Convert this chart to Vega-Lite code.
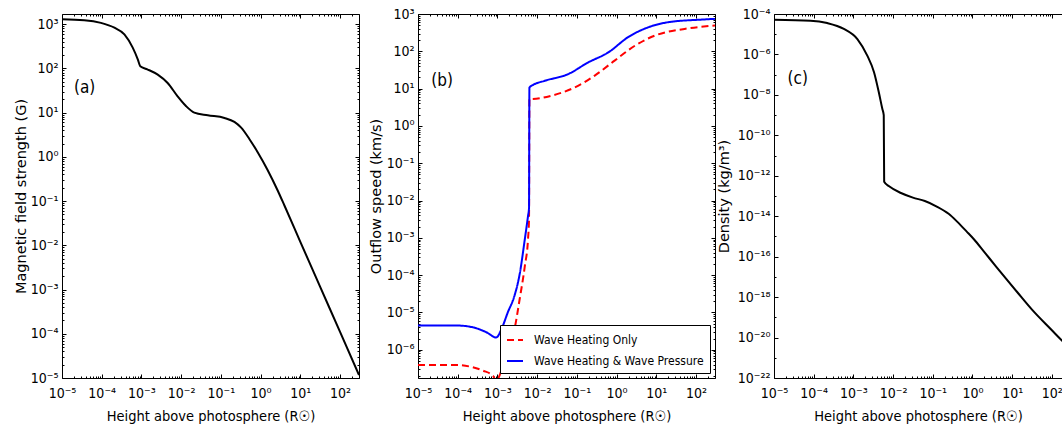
{
  "$schema": "https://vega.github.io/schema/vega-lite/v6.json",
  "padding": {"left": 13, "top": 7, "right": 0, "bottom": 3},
  "bounds": "flush",
  "spacing": 59,
  "resolve": {"scale": {"color": "independent", "strokeDash": "independent"}, "legend": {"color": "independent", "strokeDash": "independent"}},
  "datasets": {
    "bfield": [
      {"h": 1e-5, "B": 1290}, {"h": 3.63e-5, "B": 1230}, {"h": 9.55e-5, "B": 1072}, {"h": 2.09e-4, "B": 832},
      {"h": 3.72e-4, "B": 589}, {"h": 6.03e-4, "B": 295}, {"h": 8.13e-4, "B": 158}, {"h": 9.33e-4, "B": 112},
      {"h": 1.41e-3, "B": 95.5}, {"h": 2.57e-3, "B": 72.4}, {"h": 4.57e-3, "B": 46.8}, {"h": 8.13e-3, "B": 23.4},
      {"h": 1.32e-2, "B": 14.1}, {"h": 2.14e-2, "B": 10.0}, {"h": 4.68e-2, "B": 8.71}, {"h": 0.123, "B": 7.59},
      {"h": 0.219, "B": 6.17}, {"h": 0.324, "B": 4.57}, {"h": 0.525, "B": 2.51}, {"h": 0.851, "B": 1.26},
      {"h": 1.51, "B": 0.50}, {"h": 2.69, "B": 0.174}, {"h": 3.98, "B": 0.0794}, {"h": 10, "B": 0.0120},
      {"h": 31.6, "B": 1.15e-3}, {"h": 100, "B": 1.10e-4}, {"h": 300, "B": 1.17e-5}
    ],
    "speed": [
      {"h": 1e-5, "v": 3.89e-7, "series": "Wave Heating Only"},
      {"h": 9.33e-5, "v": 3.89e-7, "series": "Wave Heating Only"},
      {"h": 2.0e-4, "v": 3.55e-7, "series": "Wave Heating Only"},
      {"h": 4.37e-4, "v": 2.75e-7, "series": "Wave Heating Only"},
      {"h": 7.76e-4, "v": 2.0e-7, "series": "Wave Heating Only"},
      {"h": 9.33e-4, "v": 1.41e-7, "series": "Wave Heating Only"},
      {"h": 1.12e-3, "v": 2.0e-7, "series": "Wave Heating Only"},
      {"h": 1.58e-3, "v": 6.3e-7, "series": "Wave Heating Only"},
      {"h": 2.69e-3, "v": 3.55e-6, "series": "Wave Heating Only"},
      {"h": 3.63e-3, "v": 2.29e-5, "series": "Wave Heating Only"},
      {"h": 4.9e-3, "v": 1.78e-4, "series": "Wave Heating Only"},
      {"h": 5.89e-3, "v": 9.33e-4, "series": "Wave Heating Only"},
      {"h": 6.24e-3, "v": 3.16e-3, "series": "Wave Heating Only"},
      {"h": 6.38e-3, "v": 5.25, "series": "Wave Heating Only"},
      {"h": 7.08e-3, "v": 5.25, "series": "Wave Heating Only"},
      {"h": 2.29e-2, "v": 6.46, "series": "Wave Heating Only"},
      {"h": 8.71e-2, "v": 10.7, "series": "Wave Heating Only"},
      {"h": 0.282, "v": 22.4, "series": "Wave Heating Only"},
      {"h": 0.891, "v": 56.2, "series": "Wave Heating Only"},
      {"h": 2.88, "v": 141, "series": "Wave Heating Only"},
      {"h": 9.12, "v": 263, "series": "Wave Heating Only"},
      {"h": 51.3, "v": 398, "series": "Wave Heating Only"},
      {"h": 300, "v": 490, "series": "Wave Heating Only"},
      {"h": 1e-5, "v": 4.47e-6, "series": "Wave Heating & Wave Pressure"},
      {"h": 9.33e-5, "v": 4.47e-6, "series": "Wave Heating & Wave Pressure"},
      {"h": 2.45e-4, "v": 3.98e-6, "series": "Wave Heating & Wave Pressure"},
      {"h": 5.25e-4, "v": 2.95e-6, "series": "Wave Heating & Wave Pressure"},
      {"h": 9.33e-4, "v": 2.14e-6, "series": "Wave Heating & Wave Pressure"},
      {"h": 1.26e-3, "v": 3.55e-6, "series": "Wave Heating & Wave Pressure"},
      {"h": 1.82e-3, "v": 1e-5, "series": "Wave Heating & Wave Pressure"},
      {"h": 2.69e-3, "v": 2.82e-5, "series": "Wave Heating & Wave Pressure"},
      {"h": 3.63e-3, "v": 1.07e-4, "series": "Wave Heating & Wave Pressure"},
      {"h": 4.9e-3, "v": 9.33e-4, "series": "Wave Heating & Wave Pressure"},
      {"h": 5.89e-3, "v": 3.89e-3, "series": "Wave Heating & Wave Pressure"},
      {"h": 6.24e-3, "v": 6.3e-3, "series": "Wave Heating & Wave Pressure"},
      {"h": 6.38e-3, "v": 10.7, "series": "Wave Heating & Wave Pressure"},
      {"h": 7.94e-3, "v": 12.6, "series": "Wave Heating & Wave Pressure"},
      {"h": 1.55e-2, "v": 16.2, "series": "Wave Heating & Wave Pressure"},
      {"h": 6.03e-2, "v": 24.5, "series": "Wave Heating & Wave Pressure"},
      {"h": 0.191, "v": 50.1, "series": "Wave Heating & Wave Pressure"},
      {"h": 0.617, "v": 93.3, "series": "Wave Heating & Wave Pressure"},
      {"h": 1.95, "v": 240, "series": "Wave Heating & Wave Pressure"},
      {"h": 6.17, "v": 437, "series": "Wave Heating & Wave Pressure"},
      {"h": 20, "v": 603, "series": "Wave Heating & Wave Pressure"},
      {"h": 138, "v": 708, "series": "Wave Heating & Wave Pressure"},
      {"h": 300, "v": 741, "series": "Wave Heating & Wave Pressure"}
    ],
    "density": [
      {"h": 1e-5, "rho": 5.25e-5}, {"h": 8.32e-5, "rho": 4.68e-5}, {"h": 2.19e-4, "rho": 3.55e-5},
      {"h": 5.75e-4, "rho": 1.82e-5}, {"h": 1.26e-3, "rho": 5.75e-6}, {"h": 2.24e-3, "rho": 8.71e-7},
      {"h": 3.31e-3, "rho": 1.32e-7}, {"h": 4.37e-3, "rho": 1.35e-8}, {"h": 5.37e-3, "rho": 2.0e-9},
      {"h": 5.82e-3, "rho": 1e-9}, {"h": 5.96e-3, "rho": 5.01e-13}, {"h": 7.94e-3, "rho": 3.02e-13},
      {"h": 1.58e-2, "rho": 1.41e-13}, {"h": 3.16e-2, "rho": 8.32e-14}, {"h": 6.31e-2, "rho": 5.62e-14},
      {"h": 0.126, "rho": 3.02e-14}, {"h": 0.251, "rho": 1.32e-14}, {"h": 0.417, "rho": 5.25e-15},
      {"h": 0.708, "rho": 1.78e-15}, {"h": 1.10, "rho": 7.08e-16}, {"h": 1.95, "rho": 1.78e-16},
      {"h": 3.98, "rho": 3.16e-17}, {"h": 13.5, "rho": 1.74e-18}, {"h": 31.6, "rho": 2.4e-19},
      {"h": 93.3, "rho": 2.63e-20}, {"h": 179.5, "rho": 7.08e-21}, {"h": 251, "rho": 3.55e-21}
    ]
  },
  "hconcat": [
    {
      "width": 297, "height": 364,
      "data": {"name": "bfield"},
      "resolve": {"axis": {"x": "independent", "y": "independent"}},
      "layer": [
        {
          "mark": {"type": "line", "color": "black", "strokeWidth": 2, "clip": true, "interpolate": "monotone"},
          "encoding": {
            "x": {"field": "h", "type": "quantitative",
              "scale": {"type": "log", "domain": [1e-5, 300], "nice": false},
              "axis": {"orient": "bottom", "title": "Height above photosphere (R☉)",
                "values": [1e-5,2e-5,3e-5,4e-5,5e-5,6e-5,7e-5,8e-5,9e-5,1e-4,2e-4,3e-4,4e-4,5e-4,6e-4,7e-4,8e-4,9e-4,0.001,0.002,0.003,0.004,0.005,0.006,0.007,0.008,0.009,0.01,0.02,0.03,0.04,0.05,0.06,0.07,0.08,0.09,0.1,0.2,0.3,0.4,0.5,0.6,0.7,0.8,0.9,1,2,3,4,5,6,7,8,9,10,20,30,40,50,60,70,80,90,100,200,300],
                "tickSize": {"condition": {"test": "abs(log(datum.value)/LN10 - round(log(datum.value)/LN10)) < 0.001", "value": -4}, "value": -2},
                "labelExpr": "abs(log(datum.value)/LN10 - round(log(datum.value)/LN10)) < 0.001 ? '10' + (round(log(datum.value)/LN10) < 0 ? '⁻' : '') + (abs(round(log(datum.value)/LN10)) >= 10 ? substring('⁰¹²³⁴⁵⁶⁷⁸⁹', floor(abs(round(log(datum.value)/LN10))/10), floor(abs(round(log(datum.value)/LN10))/10) + 1) : '') + substring('⁰¹²³⁴⁵⁶⁷⁸⁹', abs(round(log(datum.value)/LN10)) % 10, abs(round(log(datum.value)/LN10)) % 10 + 1) : ''"}},
            "y": {"field": "B", "type": "quantitative",
              "scale": {"type": "log", "domain": [1e-5, 1700], "nice": false},
              "axis": {"orient": "left", "title": "Magnetic field strength (G)", "titlePadding": 5, "minExtent": 29, "maxExtent": 29,
                "values": [1e-5,2e-5,3e-5,4e-5,5e-5,6e-5,7e-5,8e-5,9e-5,1e-4,2e-4,3e-4,4e-4,5e-4,6e-4,7e-4,8e-4,9e-4,0.001,0.002,0.003,0.004,0.005,0.006,0.007,0.008,0.009,0.01,0.02,0.03,0.04,0.05,0.06,0.07,0.08,0.09,0.1,0.2,0.3,0.4,0.5,0.6,0.7,0.8,0.9,1,2,3,4,5,6,7,8,9,10,20,30,40,50,60,70,80,90,100,200,300,400,500,600,700,800,900,1000],
                "tickSize": {"condition": {"test": "abs(log(datum.value)/LN10 - round(log(datum.value)/LN10)) < 0.001", "value": -4}, "value": -2},
                "labelExpr": "abs(log(datum.value)/LN10 - round(log(datum.value)/LN10)) < 0.001 ? '10' + (round(log(datum.value)/LN10) < 0 ? '⁻' : '') + (abs(round(log(datum.value)/LN10)) >= 10 ? substring('⁰¹²³⁴⁵⁶⁷⁸⁹', floor(abs(round(log(datum.value)/LN10))/10), floor(abs(round(log(datum.value)/LN10))/10) + 1) : '') + substring('⁰¹²³⁴⁵⁶⁷⁸⁹', abs(round(log(datum.value)/LN10)) % 10, abs(round(log(datum.value)/LN10)) % 10 + 1) : ''"}}
          }
        },
        {
          "mark": {"type": "line", "opacity": 0},
          "encoding": {
            "x": {"field": "h", "type": "quantitative",
              "axis": {"orient": "top", "title": null, "labels": false,
                "values": [1e-5,2e-5,3e-5,4e-5,5e-5,6e-5,7e-5,8e-5,9e-5,1e-4,2e-4,3e-4,4e-4,5e-4,6e-4,7e-4,8e-4,9e-4,0.001,0.002,0.003,0.004,0.005,0.006,0.007,0.008,0.009,0.01,0.02,0.03,0.04,0.05,0.06,0.07,0.08,0.09,0.1,0.2,0.3,0.4,0.5,0.6,0.7,0.8,0.9,1,2,3,4,5,6,7,8,9,10,20,30,40,50,60,70,80,90,100,200,300],
                "tickSize": {"condition": {"test": "abs(log(datum.value)/LN10 - round(log(datum.value)/LN10)) < 0.001", "value": -4}, "value": -2}}},
            "y": {"field": "B", "type": "quantitative",
              "axis": {"orient": "right", "title": null, "labels": false, "minExtent": 0,
                "values": [1e-5,2e-5,3e-5,4e-5,5e-5,6e-5,7e-5,8e-5,9e-5,1e-4,2e-4,3e-4,4e-4,5e-4,6e-4,7e-4,8e-4,9e-4,0.001,0.002,0.003,0.004,0.005,0.006,0.007,0.008,0.009,0.01,0.02,0.03,0.04,0.05,0.06,0.07,0.08,0.09,0.1,0.2,0.3,0.4,0.5,0.6,0.7,0.8,0.9,1,2,3,4,5,6,7,8,9,10,20,30,40,50,60,70,80,90,100,200,300,400,500,600,700,800,900,1000],
                "tickSize": {"condition": {"test": "abs(log(datum.value)/LN10 - round(log(datum.value)/LN10)) < 0.001", "value": -4}, "value": -2}}}
          }
        },
        {
          "data": {"values": [{"t": "(a)"}]},
          "mark": {"type": "text", "align": "left", "baseline": "middle", "fontSize": 17, "font": "DejaVu Sans Condensed, DejaVu Sans", "color": "black"},
          "encoding": {
            "x": {"datum": 2e-5, "type": "quantitative", "axis": null},
            "y": {"datum": 37, "type": "quantitative", "axis": null},
            "text": {"field": "t"}
          }
        }
      ]
    },
    {
      "width": 297, "height": 364,
      "data": {"name": "speed"},
      "resolve": {"axis": {"x": "independent", "y": "independent"}},
      "layer": [
        {
          "mark": {"type": "line", "strokeWidth": 2, "clip": true, "interpolate": "monotone"},
          "encoding": {
            "x": {"field": "h", "type": "quantitative",
              "scale": {"type": "log", "domain": [1e-5, 300], "nice": false},
              "axis": {"orient": "bottom", "title": "Height above photosphere (R☉)",
                "values": [1e-5,2e-5,3e-5,4e-5,5e-5,6e-5,7e-5,8e-5,9e-5,1e-4,2e-4,3e-4,4e-4,5e-4,6e-4,7e-4,8e-4,9e-4,0.001,0.002,0.003,0.004,0.005,0.006,0.007,0.008,0.009,0.01,0.02,0.03,0.04,0.05,0.06,0.07,0.08,0.09,0.1,0.2,0.3,0.4,0.5,0.6,0.7,0.8,0.9,1,2,3,4,5,6,7,8,9,10,20,30,40,50,60,70,80,90,100,200,300],
                "tickSize": {"condition": {"test": "abs(log(datum.value)/LN10 - round(log(datum.value)/LN10)) < 0.001", "value": -4}, "value": -2},
                "labelExpr": "abs(log(datum.value)/LN10 - round(log(datum.value)/LN10)) < 0.001 ? '10' + (round(log(datum.value)/LN10) < 0 ? '⁻' : '') + (abs(round(log(datum.value)/LN10)) >= 10 ? substring('⁰¹²³⁴⁵⁶⁷⁸⁹', floor(abs(round(log(datum.value)/LN10))/10), floor(abs(round(log(datum.value)/LN10))/10) + 1) : '') + substring('⁰¹²³⁴⁵⁶⁷⁸⁹', abs(round(log(datum.value)/LN10)) % 10, abs(round(log(datum.value)/LN10)) % 10 + 1) : ''"}},
            "y": {"field": "v", "type": "quantitative",
              "scale": {"type": "log", "domain": [1.75e-7, 1000], "nice": false},
              "axis": {"orient": "left", "title": "Outflow speed (km/s)", "titlePadding": 6, "minExtent": 29, "maxExtent": 29,
                "values": [2e-7,3e-7,4e-7,5e-7,6e-7,7e-7,8e-7,9e-7,1e-6,2e-6,3e-6,4e-6,5e-6,6e-6,7e-6,8e-6,9e-6,1e-5,2e-5,3e-5,4e-5,5e-5,6e-5,7e-5,8e-5,9e-5,1e-4,2e-4,3e-4,4e-4,5e-4,6e-4,7e-4,8e-4,9e-4,0.001,0.002,0.003,0.004,0.005,0.006,0.007,0.008,0.009,0.01,0.02,0.03,0.04,0.05,0.06,0.07,0.08,0.09,0.1,0.2,0.3,0.4,0.5,0.6,0.7,0.8,0.9,1,2,3,4,5,6,7,8,9,10,20,30,40,50,60,70,80,90,100,200,300,400,500,600,700,800,900,1000],
                "tickSize": {"condition": {"test": "abs(log(datum.value)/LN10 - round(log(datum.value)/LN10)) < 0.001", "value": -4}, "value": -2},
                "labelExpr": "abs(log(datum.value)/LN10 - round(log(datum.value)/LN10)) < 0.001 ? '10' + (round(log(datum.value)/LN10) < 0 ? '⁻' : '') + (abs(round(log(datum.value)/LN10)) >= 10 ? substring('⁰¹²³⁴⁵⁶⁷⁸⁹', floor(abs(round(log(datum.value)/LN10))/10), floor(abs(round(log(datum.value)/LN10))/10) + 1) : '') + substring('⁰¹²³⁴⁵⁶⁷⁸⁹', abs(round(log(datum.value)/LN10)) % 10, abs(round(log(datum.value)/LN10)) % 10 + 1) : ''"}},
            "color": {"field": "series", "type": "nominal",
              "scale": {"domain": ["Wave Heating Only", "Wave Heating & Wave Pressure"], "range": ["#ff0000", "#0000ff"]},
              "legend": {"orient": "bottom-right", "offset": 5, "title": null, "strokeColor": "black", "fillColor": "white",
                "padding": 6, "symbolType": "stroke", "symbolStrokeWidth": 2, "symbolSize": 256,
                "labelFont": "DejaVu Sans Condensed, DejaVu Sans", "labelFontSize": 12, "labelColor": "black",
                "rowPadding": 6, "labelOffset": 10, "cornerRadius": 0, "labelLimit": 0}},
            "strokeDash": {"field": "series", "type": "nominal",
              "scale": {"domain": ["Wave Heating Only", "Wave Heating & Wave Pressure"], "range": [[7, 4], [1, 0]]}}
          }
        },
        {
          "mark": {"type": "line", "opacity": 0},
          "encoding": {
            "x": {"field": "h", "type": "quantitative",
              "axis": {"orient": "top", "title": null, "labels": false,
                "values": [1e-5,2e-5,3e-5,4e-5,5e-5,6e-5,7e-5,8e-5,9e-5,1e-4,2e-4,3e-4,4e-4,5e-4,6e-4,7e-4,8e-4,9e-4,0.001,0.002,0.003,0.004,0.005,0.006,0.007,0.008,0.009,0.01,0.02,0.03,0.04,0.05,0.06,0.07,0.08,0.09,0.1,0.2,0.3,0.4,0.5,0.6,0.7,0.8,0.9,1,2,3,4,5,6,7,8,9,10,20,30,40,50,60,70,80,90,100,200,300],
                "tickSize": {"condition": {"test": "abs(log(datum.value)/LN10 - round(log(datum.value)/LN10)) < 0.001", "value": -4}, "value": -2}}},
            "y": {"field": "v", "type": "quantitative",
              "axis": {"orient": "right", "title": null, "labels": false, "minExtent": 0,
                "values": [2e-7,3e-7,4e-7,5e-7,6e-7,7e-7,8e-7,9e-7,1e-6,2e-6,3e-6,4e-6,5e-6,6e-6,7e-6,8e-6,9e-6,1e-5,2e-5,3e-5,4e-5,5e-5,6e-5,7e-5,8e-5,9e-5,1e-4,2e-4,3e-4,4e-4,5e-4,6e-4,7e-4,8e-4,9e-4,0.001,0.002,0.003,0.004,0.005,0.006,0.007,0.008,0.009,0.01,0.02,0.03,0.04,0.05,0.06,0.07,0.08,0.09,0.1,0.2,0.3,0.4,0.5,0.6,0.7,0.8,0.9,1,2,3,4,5,6,7,8,9,10,20,30,40,50,60,70,80,90,100,200,300,400,500,600,700,800,900,1000],
                "tickSize": {"condition": {"test": "abs(log(datum.value)/LN10 - round(log(datum.value)/LN10)) < 0.001", "value": -4}, "value": -2}}}
          }
        },
        {
          "data": {"values": [{"t": "(b)"}]},
          "mark": {"type": "text", "align": "left", "baseline": "middle", "fontSize": 17, "font": "DejaVu Sans Condensed, DejaVu Sans", "color": "black"},
          "encoding": {
            "x": {"datum": 2.16e-5, "type": "quantitative", "axis": null},
            "y": {"datum": 16, "type": "quantitative", "axis": null},
            "text": {"field": "t"}
          }
        }
      ]
    },
    {
      "width": 288, "height": 364,
      "data": {"name": "density"},
      "resolve": {"axis": {"x": "independent", "y": "independent"}},
      "layer": [
        {
          "mark": {"type": "line", "color": "black", "strokeWidth": 2, "clip": true, "interpolate": "monotone"},
          "encoding": {
            "x": {"field": "h", "type": "quantitative",
              "scale": {"type": "log", "domain": [1e-5, 180], "nice": false},
              "axis": {"orient": "bottom", "title": "Height above photosphere (R☉)",
                "values": [1e-5,2e-5,3e-5,4e-5,5e-5,6e-5,7e-5,8e-5,9e-5,1e-4,2e-4,3e-4,4e-4,5e-4,6e-4,7e-4,8e-4,9e-4,0.001,0.002,0.003,0.004,0.005,0.006,0.007,0.008,0.009,0.01,0.02,0.03,0.04,0.05,0.06,0.07,0.08,0.09,0.1,0.2,0.3,0.4,0.5,0.6,0.7,0.8,0.9,1,2,3,4,5,6,7,8,9,10,20,30,40,50,60,70,80,90,100],
                "tickSize": {"condition": {"test": "abs(log(datum.value)/LN10 - round(log(datum.value)/LN10)) < 0.001", "value": -4}, "value": -2},
                "labelExpr": "abs(log(datum.value)/LN10 - round(log(datum.value)/LN10)) < 0.001 ? '10' + (round(log(datum.value)/LN10) < 0 ? '⁻' : '') + (abs(round(log(datum.value)/LN10)) >= 10 ? substring('⁰¹²³⁴⁵⁶⁷⁸⁹', floor(abs(round(log(datum.value)/LN10))/10), floor(abs(round(log(datum.value)/LN10))/10) + 1) : '') + substring('⁰¹²³⁴⁵⁶⁷⁸⁹', abs(round(log(datum.value)/LN10)) % 10, abs(round(log(datum.value)/LN10)) % 10 + 1) : ''"}},
            "y": {"field": "rho", "type": "quantitative",
              "scale": {"type": "log", "domain": [1e-22, 1e-4], "nice": false},
              "axis": {"orient": "left", "title": "Density (kg/m³)", "titlePadding": 9, "minExtent": 34, "maxExtent": 34,
                "values": [1e-22,1e-21,1e-20,1e-19,1e-18,1e-17,1e-16,1e-15,1e-14,1e-13,1e-12,1e-11,1e-10,1e-9,1e-8,1e-7,1e-6,1e-5,1e-4],
                "tickSize": {"condition": {"test": "round(log(datum.value)/LN10) % 2 == 0", "value": -4}, "value": -2},
                "labelExpr": "round(log(datum.value)/LN10) % 2 == 0 ? '10' + (round(log(datum.value)/LN10) < 0 ? '⁻' : '') + (abs(round(log(datum.value)/LN10)) >= 10 ? substring('⁰¹²³⁴⁵⁶⁷⁸⁹', floor(abs(round(log(datum.value)/LN10))/10), floor(abs(round(log(datum.value)/LN10))/10) + 1) : '') + substring('⁰¹²³⁴⁵⁶⁷⁸⁹', abs(round(log(datum.value)/LN10)) % 10, abs(round(log(datum.value)/LN10)) % 10 + 1) : ''"}}
          }
        },
        {
          "mark": {"type": "line", "opacity": 0},
          "encoding": {
            "x": {"field": "h", "type": "quantitative",
              "axis": {"orient": "top", "title": null, "labels": false,
                "values": [1e-5,2e-5,3e-5,4e-5,5e-5,6e-5,7e-5,8e-5,9e-5,1e-4,2e-4,3e-4,4e-4,5e-4,6e-4,7e-4,8e-4,9e-4,0.001,0.002,0.003,0.004,0.005,0.006,0.007,0.008,0.009,0.01,0.02,0.03,0.04,0.05,0.06,0.07,0.08,0.09,0.1,0.2,0.3,0.4,0.5,0.6,0.7,0.8,0.9,1,2,3,4,5,6,7,8,9,10,20,30,40,50,60,70,80,90,100],
                "tickSize": {"condition": {"test": "abs(log(datum.value)/LN10 - round(log(datum.value)/LN10)) < 0.001", "value": -4}, "value": -2}}},
            "y": {"field": "rho", "type": "quantitative", "axis": null}
          }
        },
        {
          "data": {"values": [{"t": "(c)"}]},
          "mark": {"type": "text", "align": "left", "baseline": "middle", "fontSize": 17, "font": "DejaVu Sans Condensed, DejaVu Sans", "color": "black"},
          "encoding": {
            "x": {"datum": 2.2e-5, "type": "quantitative", "axis": null},
            "y": {"datum": 6.2e-8, "type": "quantitative", "axis": null},
            "text": {"field": "t"}
          }
        }
      ]
    }
  ],
  "config": {
    "font": "DejaVu Sans",
    "view": {"stroke": null},
    "axis": {"grid": false, "domainColor": "black", "domainWidth": 1, "tickColor": "black", "tickWidth": 1,
      "labelColor": "black", "titleColor": "black", "titleFontWeight": "normal",
      "labelFont": "DejaVu Sans Condensed, DejaVu Sans", "labelFontSize": 14,
      "labelOverlap": false, "labelFlush": false, "labelBound": false},
    "axisX": {"titleFont": "DejaVu Sans Condensed, DejaVu Sans", "titleFontSize": 14.5, "labelPadding": 12, "titlePadding": 7},
    "axisY": {"titleFont": "DejaVu Sans", "titleFontSize": 14.5, "labelPadding": 8}
  }
}
